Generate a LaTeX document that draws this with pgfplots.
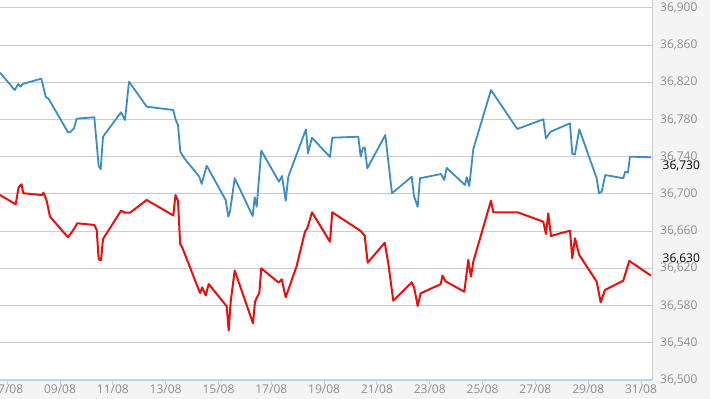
\documentclass[border=0pt]{standalone}
\usepackage{pgfplots}
\pgfplotsset{compat=1.18}
\usepackage{fontspec}
\setmainfont{Open Sans}
\definecolor{bggrey}{HTML}{F4F4F4}
\definecolor{gridgrey}{HTML}{CCCCCC}
\definecolor{axisblue}{HTML}{C2D2E2}
\definecolor{labgrey}{HTML}{8E8E8E}
\definecolor{lineblue}{HTML}{3C8DC5}
\definecolor{linered}{HTML}{E80F0F}
\begin{document}
\begin{tikzpicture}
\useasboundingbox (0,0) rectangle (710pt,399pt);
\clip (0,0) rectangle (710pt,399pt);
\fill[bggrey] (0,0) rectangle (710pt,399pt);
\begin{axis}[
  at={(0pt,19pt)}, anchor=south west,
  scale only axis, width=652pt, height=380pt,
  xmin=6.727, xmax=31.416, ymin=36500, ymax=36908.6,
  scaled x ticks=false, scaled y ticks=false,
  axis background/.style={fill=white},
  axis x line*=bottom, axis y line*=right,
  x axis line style={-, draw=axisblue, line width=1.2pt},
  y axis line style={-, draw=gridgrey, line width=1pt},
  xtick={7,9,...,31},
  xticklabels={07/08,09/08,11/08,13/08,15/08,17/08,19/08,21/08,23/08,25/08,27/08,29/08,31/08},
  ytick={36500,36540,...,36900},
  yticklabels={{36,500},{36,540},{36,580},{36,620},{36,660},{36,700},{36,740},{36,780},{36,820},{36,860},{36,900}},
  yticklabel pos=right,
  xtick pos=bottom,
  tick align=outside,
  major tick length=5pt,
  xtick style={draw=axisblue, line width=1pt},
  ytick style={draw=none},
  ymajorgrids, grid style={draw=gridgrey, line width=1pt},
  tick label style={font=\fontsize{12}{14}\selectfont, text=labgrey},
  yticklabel style={anchor=west, inner sep=0pt, xshift=3pt},
  xticklabel style={anchor=base, inner sep=0pt, yshift=-9pt},
  clip mode=individual,
]
\addplot[lineblue, line width=1.8pt, line join=round] coordinates {
(6.727,36830.4) (7.284,36811.8) (7.420,36818.3) (7.511,36815.4) (7.587,36818.3)
(8.291,36824.0) (8.457,36804.6) (8.571,36802.2) (9.302,36766.3) (9.378,36766.3)
(9.529,36770.6) (9.631,36781.0) (10.298,36782.5) (10.464,36730.1) (10.540,36726.6)
(10.627,36761.6) (11.309,36787.8) (11.460,36779.6) (11.611,36820.8) (12.282,36793.9)
(13.289,36790.3) (13.380,36779.6) (13.467,36774.2) (13.554,36745.5) (13.706,36738.4)
(14.273,36718.6) (14.364,36710.8) (14.554,36730.4) (15.273,36693.5) (15.372,36675.6)
(15.436,36681.0) (15.614,36716.9) (16.295,36676.3) (16.371,36696.5) (16.447,36686.3)
(16.621,36746.6) (17.291,36713.2) (17.405,36719.4) (17.545,36692.8) (17.644,36718.6)
(18.313,36769.6) (18.389,36743.8) (18.541,36760.5) (19.222,36739.8) (19.309,36760.5)
(20.294,36761.6) (20.385,36740.1) (20.460,36749.1) (20.536,36750.2) (20.635,36727.6)
(21.316,36763.4) (21.570,36700.8) (22.316,36718.6) (22.403,36697.8) (22.543,36686.3)
(22.630,36716.9) (23.425,36721.5) (23.551,36715.1) (23.641,36728.0) (24.334,36709.7)
(24.398,36718.0) (24.497,36708.6) (24.648,36748.1) (25.319,36811.8) (26.314,36769.9)
(27.299,36780.3) (27.401,36759.9) (27.579,36767.0) (28.310,36776.0) (28.397,36743.0)
(28.499,36742.7) (28.662,36769.6) (29.321,36716.9) (29.408,36700.8) (29.510,36702.5)
(29.646,36720.4) (30.328,36716.9) (30.403,36724.0) (30.506,36722.9) (30.581,36740.1)
(31.377,36739.5)
};
\addplot[linered, line width=2pt, line join=round] coordinates {
(6.727,36698.9) (7.321,36688.9) (7.435,36707.5) (7.541,36710.4) (7.609,36700.8)
(8.317,36698.9) (8.374,36701.4) (8.495,36692.5) (8.620,36675.6) (9.302,36653.4)
(9.502,36661.3) (9.654,36668.5) (10.298,36666.7) (10.389,36661.3) (10.464,36629.8)
(10.551,36629.0) (10.627,36651.6) (11.309,36682.0) (11.460,36679.9) (11.650,36679.9)
(12.282,36693.5) (13.289,36676.9) (13.372,36698.9) (13.467,36692.5) (13.550,36646.2)
(13.637,36641.9) (14.300,36593.5) (14.383,36599.5) (14.516,36590.9) (14.629,36603.2)
(15.311,36579.2) (15.387,36553.2) (15.462,36584.2) (15.614,36617.7) (16.307,36561.0)
(16.383,36584.2) (16.470,36589.6) (16.545,36593.2) (16.621,36620.1) (17.280,36604.6)
(17.394,36608.3) (17.545,36588.9) (17.961,36622.6) (18.276,36659.5) (18.363,36663.1)
(18.541,36680.3) (19.222,36648.7) (19.309,36680.3) (20.385,36660.2) (20.536,36655.2)
(20.650,36626.1) (21.294,36647.6) (21.430,36625.5) (21.619,36585.3) (22.316,36605.1)
(22.403,36600.3) (22.543,36579.6) (22.656,36593.2) (23.350,36602.2) (23.414,36602.9)
(23.482,36612.2) (23.596,36606.1) (24.308,36594.9) (24.459,36629.0) (24.561,36611.1)
(24.648,36627.2) (25.319,36692.8) (25.406,36680.3) (26.330,36680.3) (27.299,36670.2)
(27.401,36657.0) (27.488,36679.2) (27.591,36654.8) (27.931,36657.7) (28.310,36660.5)
(28.397,36630.9) (28.499,36652.4) (28.662,36634.4) (29.321,36605.7) (29.472,36583.5)
(29.635,36596.8) (30.328,36606.8) (30.555,36628.0) (31.377,36612.2)
};
\node[anchor=west, inner sep=0pt, xshift=10.5pt, font=\fontsize{12}{14}\selectfont, text=black] at (axis cs:31.416,36730) {36,730};
\node[anchor=west, inner sep=0pt, xshift=10.5pt, font=\fontsize{12}{14}\selectfont, text=black] at (axis cs:31.416,36630) {36,630};
\end{axis}
\end{tikzpicture}
\end{document}
